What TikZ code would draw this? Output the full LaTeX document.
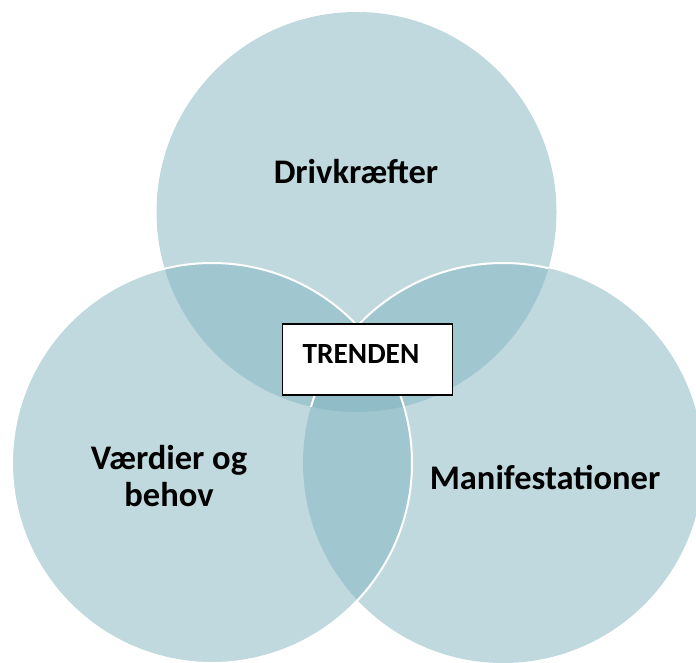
\documentclass[tikz,border=0pt]{standalone}
\usepackage{fontspec}
\setmainfont{Carlito}
\definecolor{venn}{RGB}{129,179,191}
\tikzset{
  vennset/.style={circle, minimum size=400pt, inner sep=0pt, outer sep=0pt,
    fill=venn, fill opacity=0.5},
  rim/.style={draw=white, line width=2pt},
  label/.style={font=\bfseries\fontsize{34.5}{37}\selectfont, text=black, inner sep=0pt, align=center},
  trendbox/.style={draw=black, line width=1.4pt, fill=white, minimum width=170pt,
    minimum height=71pt, inner sep=0pt},
  trendtext/.style={font=\bfseries\fontsize{29.3}{32}\selectfont, text=black, inner sep=0pt}
}
\begin{document}
\begin{tikzpicture}[x=1pt, y=1pt]
  \useasboundingbox (0,0) rectangle (696,-662);
  \clip (0,0) rectangle (696,-662);

  % the three sets
  \node[vennset] (drive) at (356.5,-212) {};
  \node[vennset] (manif) at (503,-463) {};
  \node[vennset] (value) at (212,-463) {};

  % white rims: the right set shows its rim only over the top set
  \begin{scope}
    \clip (drive.center) circle[radius=200pt];
    \draw[rim] (manif.center) circle[radius=200pt];
  \end{scope}
  \draw[rim] (value.center) circle[radius=200pt];

  % labels
  \node[label, anchor=base] (ldrive) at (356,-183) {Drivkræfter};
  \node[label, anchor=base] (lmanif) at (545,-489) {Manifestationer};
  \node[label, anchor=base] (lvalue) at (169,-469) {Værdier og};
  \node[label, anchor=base] (lvalue2) at (169,-506) {behov};

  % centre box
  \node[trendbox] (box) at (367.7,-359.5) {};
  \node[trendtext, anchor=base] (trend) at (361,-363) {TRENDEN};
\end{tikzpicture}
\end{document}
